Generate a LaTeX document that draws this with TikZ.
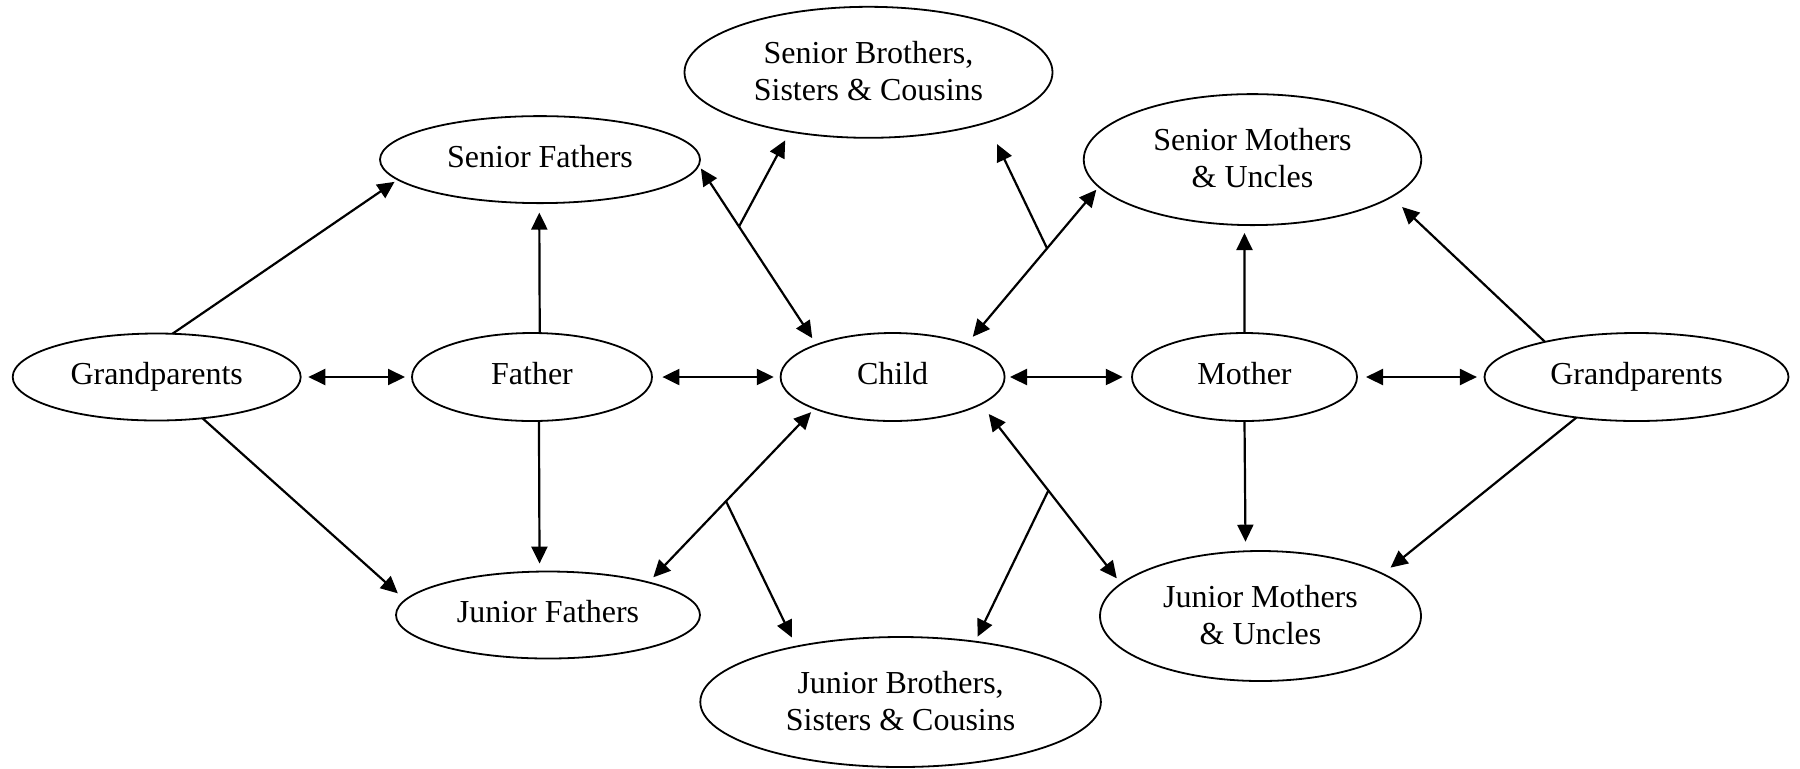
\documentclass[tikz,border=0pt]{standalone}
\usepackage{fontspec}
\setmainfont{Liberation Serif}
\usetikzlibrary{shapes.geometric,arrows.meta}
\begin{document}
\begin{tikzpicture}[x=0.5pt,y=-0.5pt,
  ell/.style={draw,ellipse,inner sep=0pt,outer sep=0pt,line width=0.9pt,align=center,
    font=\fontsize{16pt}{18.5pt}\selectfont},
  oneline/.style={ell,execute at end node={\vphantom{p}}},
  twoline/.style={ell,execute at end node={\rule[-0.1em]{0pt}{0pt}}},
  tip/.tip={Triangle[length=8.5pt,width=8pt]},
  arr/.style={line width=1.1pt,-tip},
  dbl/.style={line width=1.1pt,tip-tip}]
\useasboundingbox (0,0) rectangle (1800,768);
% nodes
\node[oneline,minimum width=144pt,minimum height=43.5pt] (gpl) at (156.7,377) {Grandparents};
\node[oneline,minimum width=120pt,minimum height=44pt] (fa) at (532,377) {Father};
\node[oneline,minimum width=112pt,minimum height=44pt] (ch) at (892.6,377) {Child};
\node[oneline,minimum width=112.5pt,minimum height=44pt] (mo) at (1244.5,377) {Mother};
\node[oneline,minimum width=152pt,minimum height=44pt] (gpr) at (1636.5,377) {Grandparents};
\node[oneline,minimum width=160pt,minimum height=43.5pt] (sf) at (540,159.6) {Senior Fathers};
\node[twoline,minimum width=184pt,minimum height=65.5pt] (sbc) at (868.5,72.3) {Senior Brothers,\\Sisters \& Cousins};
\node[twoline,minimum width=168.75pt,minimum height=65.5pt] (sm) at (1252.5,159.6) {Senior Mothers\\\& Uncles};
\node[oneline,minimum width=152pt,minimum height=43.5pt] (jf) at (548,615) {Junior Fathers};
\node[twoline,minimum width=200.3pt,minimum height=65pt] (jbc) at (900.6,702) {Junior Brothers,\\Sisters \& Cousins};
\node[twoline,minimum width=160.5pt,minimum height=65pt] (jm) at (1260.5,616) {Junior Mothers\\\& Uncles};
% connectors
\draw[arr,shorten >=2pt] (gpl.70.2) -- (sf.188.4);
\draw[arr,shorten >=5pt] (gpl.318.7) -- (jf.174.3);
\draw[dbl,shorten <=3.8pt,shorten >=3.5pt] (gpl.east) -- (fa.west);
\draw[arr,shorten >=4.75pt] (fa.80.6) -- (sf.269.1);
\draw[arr,shorten >=4pt] (fa.279.4) -- (jf.101.3);
\draw[dbl,shorten <=5.2pt,shorten >=3.4pt] (fa.east) -- (ch.west);
\draw[dbl,shorten <=2pt,shorten >=3.9pt] (sf.358.7) -- coordinate[pos=0.342] (m1) (ch.157.2);
\draw[arr,shorten >=5pt] (m1) -- (sbc.217.7);
\draw[dbl,shorten <=4.75pt,shorten >=2pt] (ch.24.1) -- coordinate[pos=0.608] (m2) (sm.190.8);
\draw[arr,shorten >=12pt] (m2) -- (sbc.337.7);
\draw[dbl,shorten <=2.7pt,shorten >=4.6pt] (ch.east) -- (mo.west);
\draw[arr,shorten >=4pt] (mo.north) -- (sm.263.5);
\draw[arr,shorten >=4.8pt] (mo.south) -- (jm.103.5);
\draw[dbl,shorten <=4.5pt,shorten >=3.8pt] (mo.east) -- (gpr.west);
\draw[arr,shorten >=7.4pt] (gpr.159.2) -- (sm.345.2);
\draw[arr,shorten >=5pt] (gpr.214) -- (jm.19.8);
\draw[dbl,shorten <=2.5pt,shorten >=3.5pt] (ch.202.8) -- coordinate[pos=0.533] (m3) (jf.18);
\draw[arr,shorten >=5pt] (m3) -- (jbc.152.4);
\draw[dbl,shorten <=6.3pt,shorten >=3.5pt] (ch.343.7) -- coordinate[pos=0.481] (m4) (jm.167);
\draw[arr,shorten >=2.75pt] (m4) -- (jbc.39.1);
\end{tikzpicture}
\end{document}
